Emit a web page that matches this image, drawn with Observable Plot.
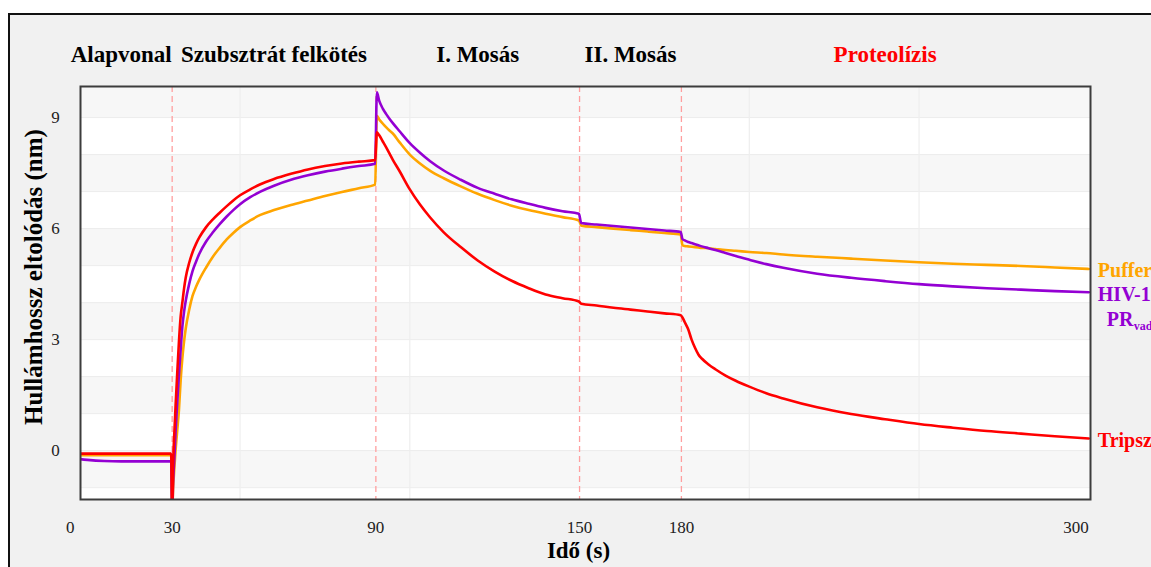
<!DOCTYPE html>
<html><head><meta charset="utf-8">
<script src="https://cdn.jsdelivr.net/npm/d3@7"></script>
<script src="https://cdn.jsdelivr.net/npm/@observablehq/plot@0.6"></script>
<style>
html,body{margin:0;padding:0;background:#fff;width:1151px;height:567px;overflow:hidden;}
#frame{position:absolute;left:8px;top:13px;width:1200px;height:620px;background:#f1f1f1;border:2px solid #111;box-sizing:border-box;}
#chart{position:absolute;left:0;top:0;}
</style></head><body>
<div id="frame"></div>
<div id="chart"></div>
<script>
// ---- data ----
const times = [
  0,5,10,15,20,25,29.7,
  30,30.3,30.7,31,31.5,32,32.5,33,33.5,34,35,36,37,38,40,42,44,46,48,50,53,56,60,65,70,75,80,85,89.8,
  90.3,91,92,93,94,95,97,100,103,106,110,115,120,125,130,135,140,145,149.8,
  150.5,155,160,165,170,175,179.8,
  180.3,181,182,183,184,185,186,188,190,193,196,200,205,210,220,230,240,250,260,270,280,290,300];
const puffer = [
  -0.12,-0.12,-0.12,-0.12,-0.12,-0.12,-0.12,
  -1.6,-1.0,-0.4,0.0,0.55,1.1,1.9,2.5,2.95,3.3,3.8,4.18,4.42,4.62,4.95,5.24,5.48,5.7,5.88,6.04,6.22,6.37,6.5,6.64,6.76,6.88,6.99,7.09,7.19,
  9.05,8.95,8.84,8.74,8.65,8.57,8.33,8.0,7.76,7.56,7.36,7.14,6.94,6.77,6.62,6.5,6.4,6.31,6.22,
  6.08,6.04,6.0,5.96,5.92,5.88,5.84,
  5.55,5.53,5.52,5.51,5.5,5.49,5.48,5.47,5.45,5.42,5.4,5.37,5.34,5.3,5.24,5.19,5.14,5.09,5.05,5.02,4.99,4.95,4.91];
const hiv = [
  -0.2,-0.25,-0.28,-0.29,-0.29,-0.29,-0.29,
  -1.6,-0.8,-0.1,0.5,1.3,2.05,2.72,3.35,3.75,4.05,4.5,4.85,5.1,5.32,5.65,5.9,6.12,6.32,6.5,6.66,6.85,7.0,7.16,7.32,7.44,7.54,7.62,7.69,7.75,
  9.68,9.45,9.25,9.1,8.97,8.85,8.63,8.31,8.05,7.82,7.57,7.32,7.1,6.94,6.79,6.67,6.56,6.47,6.4,
  6.15,6.11,6.07,6.03,5.99,5.95,5.91,
  5.72,5.68,5.64,5.61,5.58,5.55,5.52,5.47,5.42,5.34,5.26,5.16,5.04,4.94,4.78,4.67,4.58,4.5,4.44,4.39,4.35,4.31,4.28];
const tripszin = [
  -0.08,-0.08,-0.08,-0.08,-0.08,-0.08,-0.08,
  -1.6,-0.3,0.6,1.2,2.1,2.95,3.62,4.0,4.38,4.68,5.07,5.36,5.58,5.76,6.04,6.25,6.43,6.6,6.76,6.9,7.06,7.2,7.34,7.48,7.6,7.69,7.76,7.81,7.85,
  8.6,8.52,8.36,8.2,8.03,7.86,7.55,7.06,6.65,6.3,5.9,5.5,5.14,4.84,4.59,4.39,4.22,4.12,4.03,
  3.97,3.92,3.86,3.81,3.76,3.71,3.66,
  3.6,3.47,3.28,3.0,2.78,2.6,2.49,2.33,2.2,2.03,1.89,1.73,1.55,1.41,1.17,0.99,0.85,0.72,0.62,0.53,0.46,0.39,0.33];
const seriesKeys = ["Puffer","HIV-1","Tripszin"];
const seriesColors = ["#ffa500","#9400d3","#ff0000"];
const phaseBounds = [0,30,90,150,180,300];
const phaseNames = ["Alapvonal","Szubsztrát felkötés","I. Mosás","II. Mosás","Proteolízis"];
const phaseColors = ["#000","#000","#000","#000","#ff0000"];
const markerTimes = [30,90,150,180];
const xTicks = [0,30,90,150,180,300];
const yTicks = [0,3,6,9];
const yGrid = [-1,0,1,2,3,4,5,6,7,8,9];
const xGrid = [50,100,200,250];
const bandStarts = [-1,1,3,5,7,9];
const xLabel = "Idő (s)";
const yLabel = "Hullámhossz eltolódás (nm)";
const xDomain = [3,300.5];
const yDomain = [-1.32,9.84];

// ---- build ----
const valuesBySeries = [puffer, hiv, tripszin];
const rows = [];
seriesKeys.forEach((k, si) => times.forEach((t, i) => rows.push({t, v: valuesBySeries[si][i], s: k})));
const ends = seriesKeys.map((k, si) => ({t: times[times.length-1], v: valuesBySeries[si][times.length-1], s: k}));
const phases = phaseNames.map((n, i) => ({name: n, mid: (phaseBounds[i] + phaseBounds[i+1]) / 2, color: phaseColors[i]}));
const serif = "'Liberation Serif','Times New Roman',serif";

const chart = Plot.plot({
  width: 1151, height: 567,
  marginLeft: 80, marginTop: 86, marginRight: 61, marginBottom: 68,
  style: {background: "transparent", fontFamily: serif, overflow: "visible"},
  x: {domain: xDomain, axis: null},
  y: {domain: yDomain, axis: null},
  color: {domain: seriesKeys, range: seriesColors},
  marks: [
    Plot.frame({fill: "white", stroke: null}),
    Plot.rect(bandStarts, {y1: d => d, y2: d => Math.min(d + 1, yDomain[1]), fill: "#f7f7f7", clip: true}),
    Plot.ruleY(yGrid, {stroke: "#ececec", strokeWidth: 1}),
    Plot.ruleX(xGrid, {stroke: "#eeeeee", strokeWidth: 1.2}),
    Plot.ruleX(markerTimes, {stroke: "#ff9f9f", strokeWidth: 1.3, strokeDasharray: "6,4"}),
    Plot.line(rows, {x: "t", y: "v", z: "s", stroke: "s", strokeWidth: 2.6, curve: "monotone-x", clip: true}),
    Plot.frame({stroke: "#3c3c3c", strokeWidth: 2}),
    // phase titles
    Plot.text(phases, {x: "mid", text: "name", fill: "color", frameAnchor: "top", dy: -41,
      fontSize: 23, fontWeight: "bold", fontFamily: serif}),
    // x tick labels
    Plot.text(xTicks.filter(d => d < xTicks[xTicks.length-1]), {x: d => d, text: d => String(d), frameAnchor: "bottom", dy: 33,
      textAnchor: "middle", fontSize: 17, fill: "#222", fontFamily: serif}),
    Plot.text(xTicks.slice(-1), {x: d => d, text: d => String(d), frameAnchor: "bottom", dy: 33, textAnchor: "end",
      fontSize: 17, fill: "#222", fontFamily: serif}),
    // y tick labels
    Plot.text(yTicks, {y: d => d, text: d => String(d), frameAnchor: "left", textAnchor: "middle", dx: -25,
      fontSize: 17, fill: "#222", fontFamily: serif}),
    // axis titles
    Plot.text([xLabel], {text: d => d, frameAnchor: "bottom", textAnchor: "middle", dx: -7, dy: 58,
      fontSize: 23, fontWeight: "bold", fontFamily: serif}),
    Plot.text([yLabel], {text: d => d, frameAnchor: "left", textAnchor: "middle", rotate: -90, dx: -47, dy: -16,
      fontSize: 25, fontWeight: "bold", fontFamily: serif}),
    // end labels
    Plot.text(ends, {x: "t", y: "v", text: "s", fill: "s", textAnchor: "start", dx: 9, dy: 2,
      fontSize: 20, fontWeight: "bold", fontFamily: serif}),
    Plot.text(ends.filter(d => d.s === "HIV-1"), {x: "t", y: "v", text: () => "PR", fill: "s", textAnchor: "start", dx: 18, dy: 27,
      fontSize: 20, fontWeight: "bold", fontFamily: serif}),
    Plot.text(ends.filter(d => d.s === "HIV-1"), {x: "t", y: "v", text: () => "vad", fill: "s", textAnchor: "start", dx: 45, dy: 34,
      fontSize: 12, fontWeight: "bold", fontFamily: serif})
  ]
});
document.getElementById("chart").appendChild(chart);
</script>
</body></html>
